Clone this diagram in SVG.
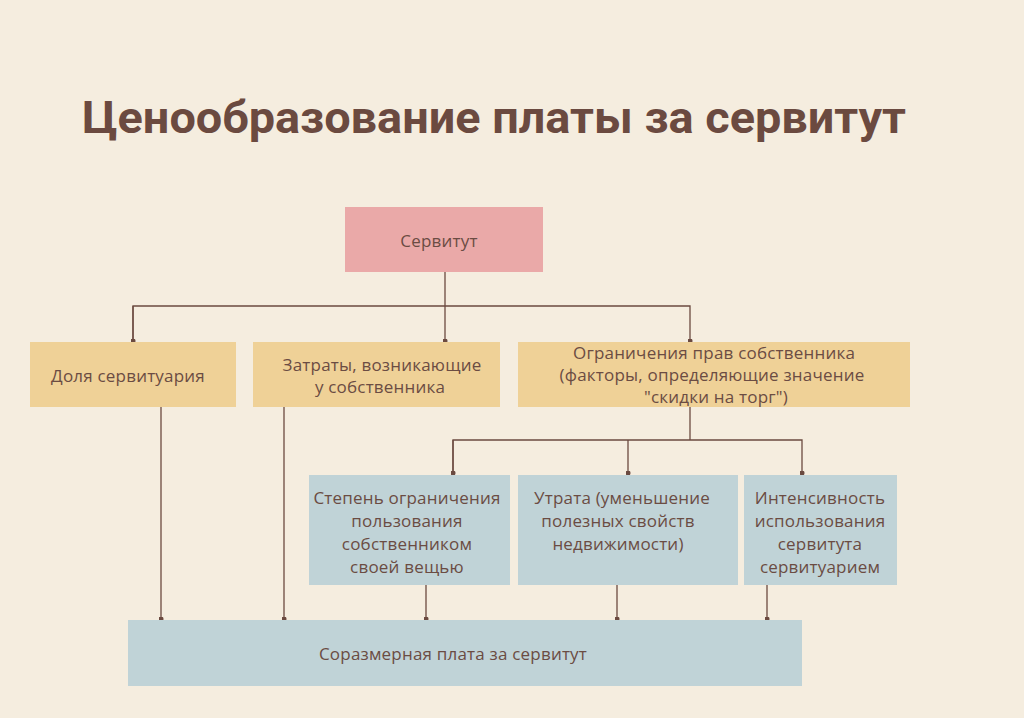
<svg xmlns="http://www.w3.org/2000/svg" width="1024" height="718" viewBox="0 0 1024 718">
<defs>
<style>
.bg{fill:#f5eddf}
.pink{fill:#eaa9a8}
.yel{fill:#efd197}
.blue{fill:#c0d3d7}
.t{font-family:"Open Sans",Roboto,"Liberation Sans",sans-serif;font-size:17px;letter-spacing:0.2px;fill:#6b4c43;text-anchor:middle}
.title{font-family:Roboto,"Liberation Sans",sans-serif;font-weight:bold;font-size:45px;fill:#6b4a40}
.ln{stroke:#6b4a40;stroke-width:1.3;fill:none}
</style>
<marker id="dot" viewBox="0 0 6 6" refX="3" refY="3" markerWidth="5" markerHeight="5" markerUnits="userSpaceOnUse"><circle cx="3" cy="3" r="3" fill="#6b4a40"/></marker>
</defs>
<rect class="bg" width="1024" height="718"/>
<text class="title" x="82" y="133" textLength="824" lengthAdjust="spacingAndGlyphs">Ценообразование платы за сервитут</text>
<g id="connectors">
<path class="ln" d="M445 272V341" marker-end="url(#dot)"/>
<path class="ln" d="M133 341V306H690V341" marker-end="url(#dot)"/>
<path class="ln" d="M133 306V341" marker-end="url(#dot)"/>
<path class="ln" d="M690 407V440"/>
<path class="ln" d="M453 473V440H802V473" marker-end="url(#dot)"/>
<path class="ln" d="M453 440V473" marker-end="url(#dot)"/>
<path class="ln" d="M628 440V473" marker-end="url(#dot)"/>
<path class="ln" d="M161 407V619" marker-end="url(#dot)"/>
<path class="ln" d="M284 407V619" marker-end="url(#dot)"/>
<path class="ln" d="M426 585V619" marker-end="url(#dot)"/>
<path class="ln" d="M617 585V619" marker-end="url(#dot)"/>
<path class="ln" d="M767 585V619" marker-end="url(#dot)"/>
</g>
<g id="servitut"><rect class="pink" x="345" y="207" width="198" height="65"/><text class="t" x="439" y="247">Сервитут</text></g>
<g id="dolya"><rect class="yel" x="30" y="342" width="206" height="65"/><text class="t" x="128" y="382">Доля сервитуария</text></g>
<g id="zatraty"><rect class="yel" x="253" y="342" width="247" height="65"/><text class="t" x="382" y="371">Затраты, возникающие</text><text class="t" x="380" y="393">у собственника</text></g>
<g id="ogranicheniya"><rect class="yel" x="518" y="342" width="392" height="65"/><text class="t" x="714" y="359">Ограничения прав собственника</text><text class="t" x="712" y="381">(факторы, определяющие значение</text><text class="t" x="716" y="403">"скидки на торг")</text></g>
<g id="stepen"><rect class="blue" x="309" y="475" width="201" height="110"/><text class="t" x="407" y="504">Степень ограничения</text><text class="t" x="407" y="527">пользования</text><text class="t" x="407" y="550">собственником</text><text class="t" x="407" y="573">своей вещью</text></g>
<g id="utrata"><rect class="blue" x="518" y="475" width="220" height="110"/><text class="t" x="622" y="504">Утрата (уменьшение</text><text class="t" x="618" y="527">полезных свойств</text><text class="t" x="618" y="550">недвижимости)</text></g>
<g id="intensivnost"><rect class="blue" x="744" y="475" width="153" height="110"/><text class="t" x="820" y="504">Интенсивность</text><text class="t" x="820" y="527">использования</text><text class="t" x="820" y="550">сервитута</text><text class="t" x="820" y="573">сервитуарием</text></g>
<g id="plata"><rect class="blue" x="128" y="620" width="674" height="66"/><text class="t" x="453" y="660">Соразмерная плата за сервитут</text></g>
</svg>
